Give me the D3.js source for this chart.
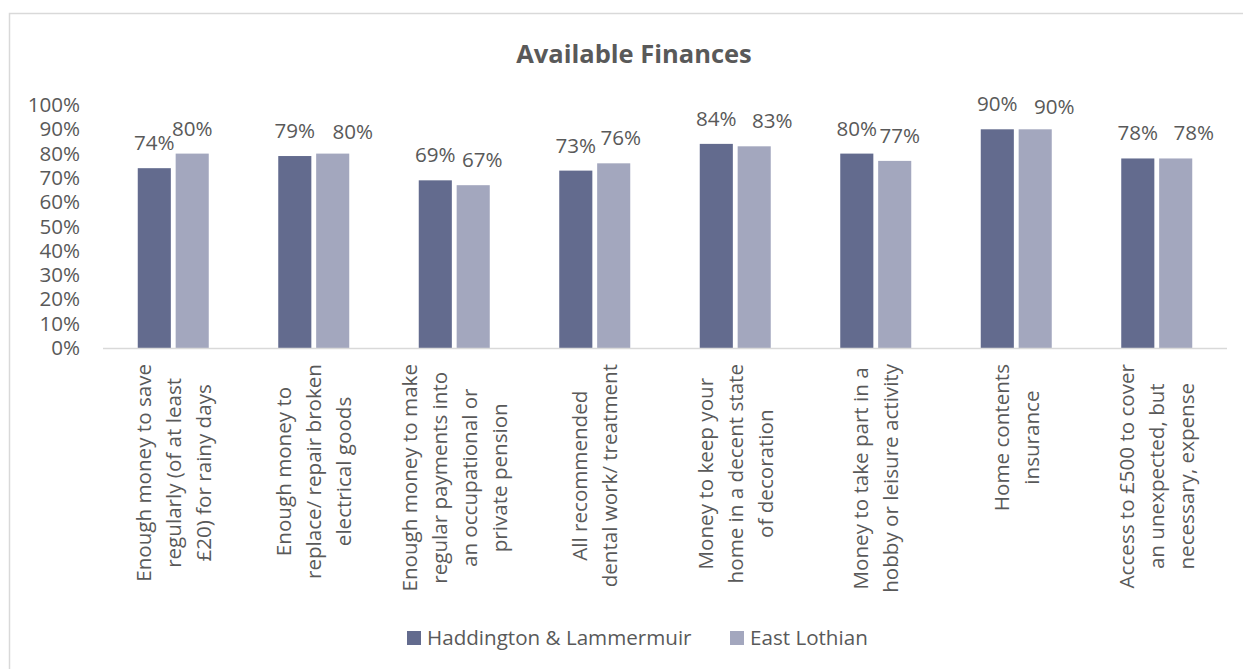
<!DOCTYPE html>
<html>
<head>
<meta charset="utf-8">
<script src="https://cdn.jsdelivr.net/npm/d3@7"></script>
<style>
  body { margin: 0; background: #fff; }
  text { font-family: "Open Sans", sans-serif; fill: #595959; }
</style>
</head>
<body>
<div id="chart"></div>
<script>
const width = 1243,
    height = 669;

// categories (line breaks as in the original axis labels)
const categories = [
    ["Enough money to save", "regularly (of at least", "£20) for rainy days"],
    ["Enough money to", "replace/ repair broken", "electrical goods"],
    ["Enough money to make", "regular payments into", "an occupational or", "private pension"],
    ["All recommended", "dental work/ treatment"],
    ["Money to keep your", "home in a decent state", "of decoration"],
    ["Money to take part in a", "hobby or leisure activity"],
    ["Home contents", "insurance"],
    ["Access to £500 to cover", "an unexpected, but", "necessary, expense"]
];
const seriesNames = ["Haddington & Lammermuir", "East Lothian"];
const haddington = [74, 79, 69, 73, 84, 80, 90, 78];
const eastLothian = [80, 80, 67, 76, 83, 77, 90, 78];
const yTicks = [0, 10, 20, 30, 40, 50, 60, 70, 80, 90, 100];
const colors = ["#636b8e", "#a3a7be"];

// Excel nudges the second label sideways when the two labels would touch
const nudgeX = [0, 20, 9, 7, 18, 5, 19, 18];
const nudgeY = [0, 3, 0, 0, 0, 0, 3, 0];

const fontSize = "20.6px";
const margin = { left: 103, right: 16 };

const svg = d3.select("#chart")
    .append("svg")
    .attr("width", width)
    .attr("height", height);

// chart frame
svg.append("rect")
    .attr("x", 9.5).attr("y", 13.5)
    .attr("width", 1300).attr("height", 700)
    .attr("fill", "none")
    .attr("stroke", "#d9d9d9")
    .attr("stroke-width", 1.5);

svg.append("text")
    .attr("x", 634)
    .attr("y", 63)
    .attr("text-anchor", "middle")
    .style("font-size", "25.5px")
    .style("font-weight", "bold")
    .text("Available Finances");

const x0 = d3.scaleBand()
    .domain(d3.range(categories.length))
    .range([margin.left, width - margin.right]);

const x1 = d3.scaleBand()
    .domain([0, 1])
    .range([0, 71])
    .paddingInner(0.127);

const y = d3.scaleLinear()
    .domain([0, 100])
    .range([348, 105]);

// y axis labels
const yAxis = svg.append("g")
    .attr("transform", "translate(80,0)")
    .call(d3.axisLeft(y).tickValues(yTicks).tickFormat(d => d + "%").tickSize(0).tickPadding(0));
yAxis.select(".domain").remove();
yAxis.selectAll("text")
    .style("font-size", fontSize)
    .style("fill", "#595959")
    .style("font-family", "'Open Sans', sans-serif");

const groups = svg.selectAll("g.grp")
    .data(categories.map((c, i) => ({ i, vals: [haddington[i], eastLothian[i]] })))
    .enter()
    .append("g")
    .attr("class", "grp")
    .attr("transform", d => "translate(" + (x0(d.i) + x0.bandwidth() / 2 - 35.5) + ",0)");

groups.selectAll("rect")
    .data(d => d.vals)
    .enter()
    .append("rect")
    .attr("x", (d, j) => x1(j))
    .attr("y", d => y(d))
    .attr("width", x1.bandwidth())
    .attr("height", d => y(0) - y(d))
    .attr("fill", (d, j) => colors[j]);

groups.selectAll("text.lbl")
    .data(d => d.vals.map((v, j) => ({ v, j, i: d.i })))
    .enter()
    .append("text")
    .attr("class", "lbl")
    .attr("x", d => x1(d.j) + x1.bandwidth() / 2 + (d.j ? nudgeX[d.i] : 0))
    .attr("y", d => y(d.v) - 18 + (d.j ? nudgeY[d.i] : 0))
    .attr("text-anchor", "middle")
    .style("font-size", fontSize)
    .text(d => d.v + "%");

// x axis line
svg.append("line")
    .attr("x1", margin.left).attr("x2", width - margin.right)
    .attr("y1", 348.5).attr("y2", 348.5)
    .attr("stroke", "#d9d9d9")
    .attr("stroke-width", 1.5);

// rotated category labels
const catG = svg.selectAll("g.cat")
    .data(categories)
    .enter()
    .append("g")
    .attr("class", "cat")
    .attr("transform", (d, i) => "translate(" + (x0(i) + x0.bandwidth() / 2) + ",0) rotate(-90)");

catG.each(function (lines) {
    const g = d3.select(this);
    const n = lines.length;
    const ts = lines.map((l, k) => g.append("text")
        .attr("text-anchor", "middle")
        .attr("y", (k - (n - 1) / 2) * 30)
        .attr("dy", "0.36em")
        .style("font-size", fontSize)
        .text(l));
    const maxLen = d3.max(ts, t => t.node().getComputedTextLength());
    ts.forEach(t => t.attr("x", -(364 + maxLen / 2)));
});

// legend
const legend = svg.append("g");
const lx = [407, 730];
seriesNames.forEach((s, j) => {
    legend.append("rect")
        .attr("x", lx[j]).attr("y", 631)
        .attr("width", 14).attr("height", 14)
        .attr("fill", colors[j]);
    legend.append("text")
        .attr("x", lx[j] + 20)
        .attr("y", 638)
        .attr("dy", "0.36em")
        .style("font-size", fontSize)
        .text(s);
});
</script>
</body>
</html>
